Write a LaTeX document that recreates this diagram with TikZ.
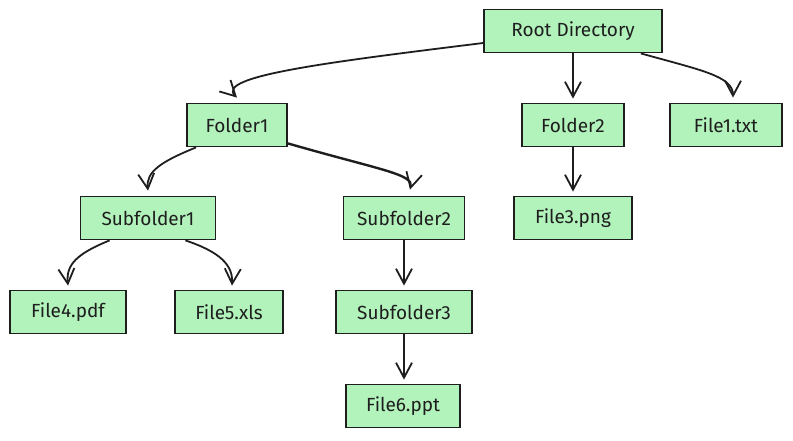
\documentclass[tikz,border=0pt]{standalone}
\usepackage{fontspec}
\setmainfont{Fira Sans}
\usetikzlibrary{arrows.meta}
\definecolor{boxfill}{HTML}{B2F2BB}
\definecolor{ink}{HTML}{1E1E1E}
\tikzset{
  box/.style={draw=ink, fill=boxfill, line width=1.8pt, minimum height=43pt, inner sep=0pt, font=\fontsize{19}{22}\selectfont, text=ink},
  arr/.style={draw=ink, line width=1.8pt, -{Straight Barb[length=15pt,width=16pt,line width=1.8pt]}},
}
\begin{document}
\begin{tikzpicture}[x=1pt,y=-1pt]
\useasboundingbox[fill=white] (0,0) rectangle (793,440);
\node[box, minimum width=178pt] (root) at (573,31) {Root Directory};
\node[box, minimum width=100pt] (f1) at (237,125) {Folder1};
\node[box, minimum width=102pt] (f2) at (573,125) {Folder2};
\node[box, minimum width=112pt] (t1) at (726,125) {File1.txt};
\node[box, minimum width=135pt] (s1) at (148,218) {Subfolder1};
\node[box, minimum width=121pt] (s2) at (404,218) {Subfolder2};
\node[box, minimum width=118pt] (p3) at (573,218) {File3.png};
\node[box, minimum width=116pt] (p4) at (68,312) {File4.pdf};
\node[box, minimum width=108pt] (x5) at (229,312) {File5.xls};
\node[box, minimum width=136pt] (s3) at (404,312) {Subfolder3};
\node[box, minimum width=114pt] (p6) at (403,406) {File6.ppt};

\draw[arr] ([yshift=-12pt]root.west) .. controls (330,62) and (215,76) .. ([yshift=5pt]f1.north);
\draw[arr] (root.south) -- ([yshift=4pt]f2.north);
\draw[arr] ([xshift=-22pt]root.south east) .. controls (700,70) and (733,76) .. ([xshift=7pt,yshift=5pt]t1.north);
\draw[arr] ([xshift=10pt]f1.south west) .. controls (160,162) and (146,172) .. ([yshift=5pt]s1.north);
\draw[arr, line width=2.4pt] ([yshift=4pt]f1.south east) .. controls (380,170) and (414,174) .. ([xshift=6pt,yshift=6pt]s2.north);
\draw[arr] (f2.south) -- ([yshift=4pt]p3.north);
\draw[arr] ([xshift=30pt]s1.south west) .. controls (76,254) and (66,265) .. ([yshift=4pt]p4.north);
\draw[arr] ([xshift=-31pt]s1.south east) .. controls (220,252) and (233,265) .. ([xshift=3pt,yshift=4pt]x5.north);
\draw[arr] (s2.south) -- ([yshift=4pt]s3.north);
\draw[arr] (s3.south) -- ([xshift=1pt,yshift=4pt]p6.north);
\end{tikzpicture}
\end{document}
